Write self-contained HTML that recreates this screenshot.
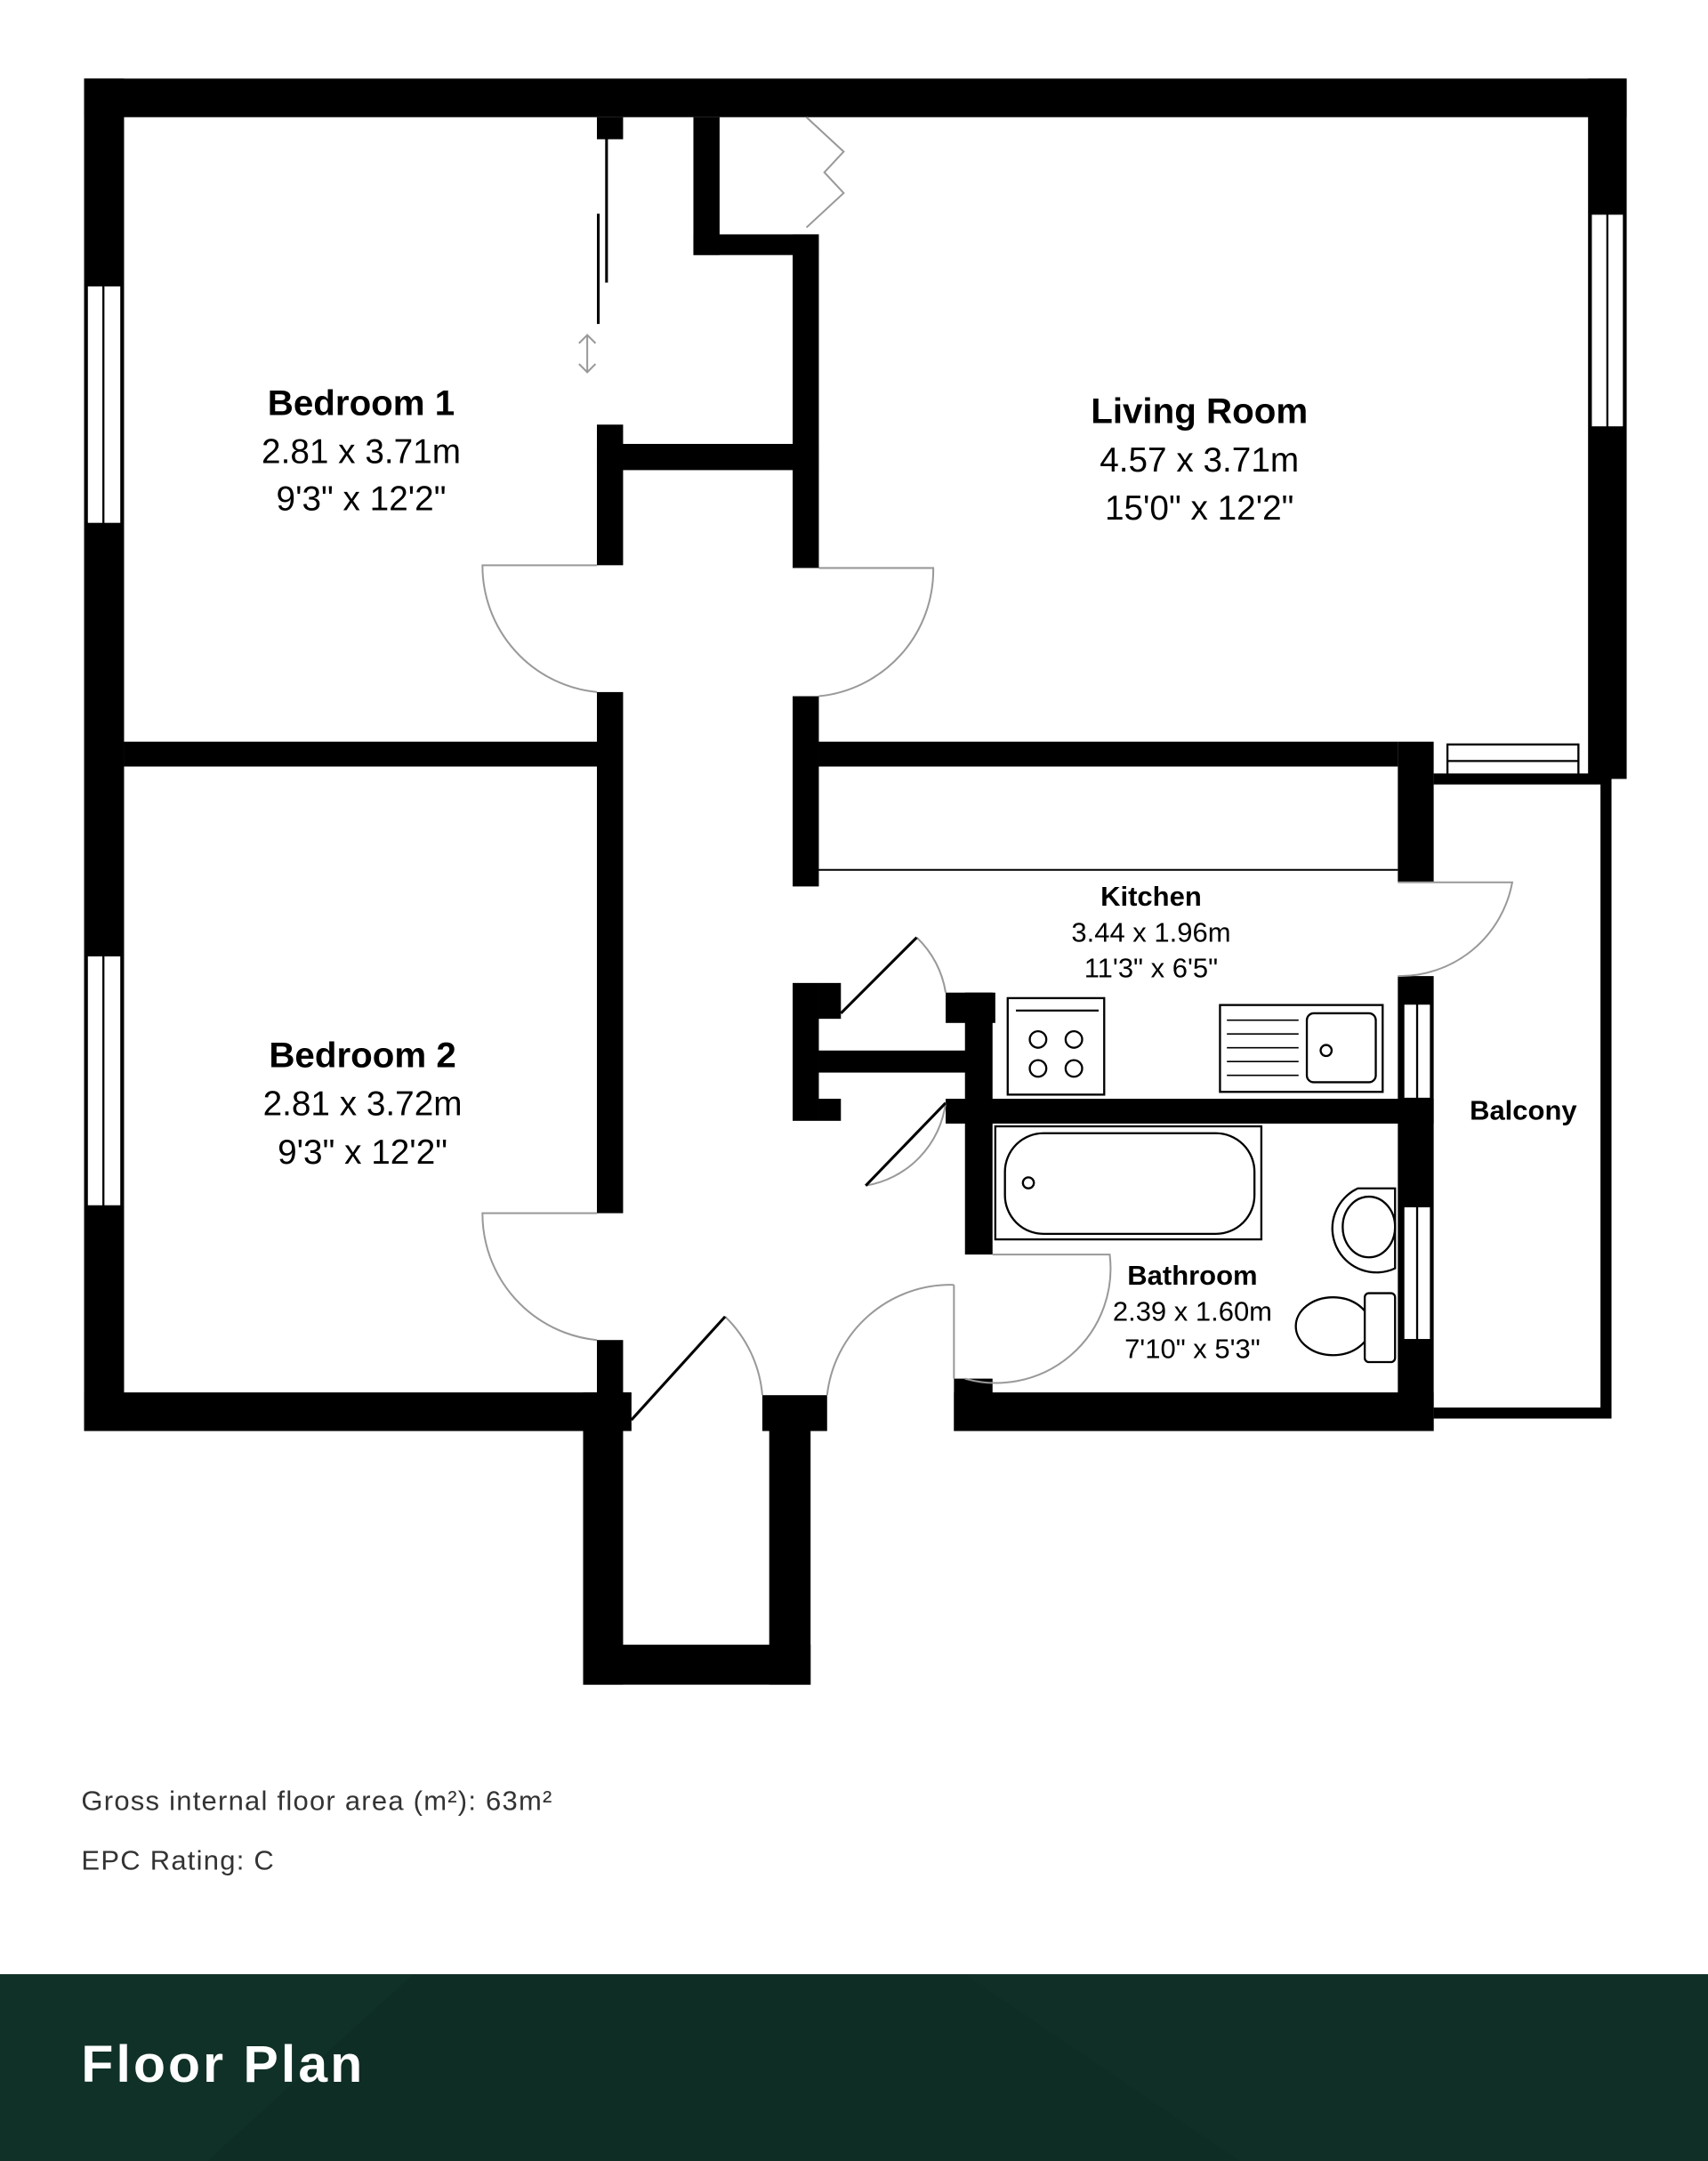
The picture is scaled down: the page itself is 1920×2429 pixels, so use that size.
<!DOCTYPE html>
<html><head><meta charset="utf-8"><style>
html,body{margin:0;padding:0;background:#fff}
svg{display:block}
</style></head><body>
<svg width="1920" height="2429" viewBox="0 0 1239 1567.5" preserveAspectRatio="none" xmlns="http://www.w3.org/2000/svg">
<rect width="1239" height="1568" fill="#fff"/>
<g fill="#000">
<rect x="61" y="57" width="1119" height="28"/>
<rect x="61" y="57" width="29" height="981"/>
<rect x="61" y="1010" width="397" height="28"/>
<rect x="1152" y="57" width="28" height="508"/>
<rect x="90" y="538" width="343" height="18"/>
<rect x="433" y="85" width="19" height="16"/>
<rect x="433" y="308" width="19" height="102"/>
<rect x="433" y="322" width="161" height="19"/>
<rect x="433" y="502" width="19" height="378"/>
<rect x="433" y="972" width="19" height="58"/>
<rect x="503" y="85" width="19" height="100"/>
<rect x="503" y="170" width="91" height="15"/>
<rect x="575" y="170" width="19" height="242"/>
<rect x="575" y="505" width="19" height="138"/>
<rect x="594" y="538" width="420" height="18"/>
<rect x="1014" y="538" width="26" height="102"/>
<rect x="575" y="713" width="19" height="100"/>
<rect x="594" y="713" width="16" height="26"/>
<rect x="594" y="797" width="16" height="16"/>
<rect x="594" y="762" width="120" height="16"/>
<rect x="686" y="720" width="36" height="22"/>
<rect x="686" y="797" width="354" height="18"/>
<rect x="700" y="720" width="20" height="190"/>
<rect x="1014" y="708" width="26" height="330"/>
<rect x="692" y="1010" width="348" height="28"/>
<rect x="692" y="1000" width="28" height="38"/>
<rect x="553" y="1012" width="47" height="26"/>
<rect x="423" y="1010" width="35" height="28"/>
<rect x="423" y="1030" width="29" height="192"/>
<rect x="558" y="1030" width="30" height="192"/>
<rect x="423" y="1193" width="165" height="29"/>
</g>
<g fill="#fff" stroke="#000" stroke-width="1.5">
<rect x="63" y="207" width="25" height="173"/><line x1="75" y1="207" x2="75" y2="380"/>
<rect x="63" y="693" width="25" height="182"/><line x1="75" y1="693" x2="75" y2="875"/>
<rect x="1154" y="155" width="24" height="155"/><line x1="1166" y1="155" x2="1166" y2="310"/>
<rect x="1050" y="540" width="95" height="24"/><line x1="1050" y1="552" x2="1145" y2="552"/>
<rect x="1018" y="728" width="20" height="69"/><line x1="1028" y1="728" x2="1028" y2="797"/>
<rect x="1018" y="875" width="20" height="97"/><line x1="1028" y1="875" x2="1028" y2="972"/>
</g>
<path d="M1040 565 H1165 V1025 H1040" fill="none" stroke="#000" stroke-width="8"/>
<g fill="none" stroke="#999" stroke-width="1.3">
<path d="M433 410 H350 A92 92 0 0 0 433 502"/>
<path d="M594 412 H677 A92 92 0 0 1 594 505"/>
<path d="M1014 640 H1097 A83 83 0 0 1 1014 708"/>
<path d="M433 880 H350 A92 92 0 0 0 433 972"/>
<path d="M692 1000 V932 M700 1000 A83 83 0 0 0 805 910 H720"/>
<path d="M600 1012 A90 90 0 0 1 692 932"/>
<path d="M526 955 A90 90 0 0 1 553 1012"/>
<path d="M665 680 A70 70 0 0 1 686 720"/>
<path d="M628 860 A70 70 0 0 0 686 800"/>
<path d="M585 85 L612 110 L598 125 L612 140 L585 165"/>
</g>
<g stroke="#000" stroke-width="2" fill="none">
<line x1="458" y1="1030" x2="526" y2="955"/>
<line x1="610" y1="735" x2="665" y2="680"/>
<line x1="628" y1="860" x2="686" y2="800"/>
<line x1="440" y1="100" x2="440" y2="205"/>
<line x1="434" y1="155" x2="434" y2="235"/>
</g>
<path d="M426 243 V270 M420 249 L426 243 L432 249 M420 264 L426 270 L432 264" stroke="#999" stroke-width="1.3" fill="none"/>
<line x1="594" y1="631" x2="1014" y2="631" stroke="#000" stroke-width="1.3"/>
<g fill="#fff" stroke="#000" stroke-width="1.5">
<rect x="731" y="724" width="70" height="70"/>
<circle cx="753" cy="754" r="6"/><circle cx="779" cy="754" r="6"/>
<circle cx="753" cy="775" r="6"/><circle cx="779" cy="775" r="6"/>
<rect x="885" y="729" width="118" height="63"/>
<rect x="948" y="735" width="50" height="50" rx="5"/>
<circle cx="962" cy="762" r="4"/>
<rect x="722" y="817" width="193" height="82"/>
<rect x="729" y="822" width="181" height="73" rx="28"/>
<circle cx="746" cy="858" r="4"/>
<path d="M1012 862 H985 A28 28 0 0 0 1012 920 Z"/>
<ellipse cx="993" cy="890" rx="19" ry="22"/>
<ellipse cx="967" cy="962" rx="27" ry="21"/>
<rect x="990" y="938" width="22" height="50" rx="3"/>
</g>
<line x1="737" y1="733" x2="797" y2="733" stroke="#000" stroke-width="1.5"/>
<g stroke="#000" stroke-width="1">
<line x1="890" y1="740" x2="942" y2="740"/><line x1="890" y1="750" x2="942" y2="750"/><line x1="890" y1="760" x2="942" y2="760"/><line x1="890" y1="770" x2="942" y2="770"/><line x1="890" y1="780" x2="942" y2="780"/>
</g>
<g font-family="Liberation Sans, sans-serif" fill="#000" text-anchor="middle">
<text x="262" y="301" font-size="26" font-weight="bold">Bedroom 1</text>
<text x="262" y="336" font-size="25">2.81 x 3.71m</text>
<text x="262" y="370" font-size="25">9'3" x 12'2"</text>
<text x="870" y="307" font-size="26" font-weight="bold">Living Room</text>
<text x="870" y="342" font-size="25">4.57 x 3.71m</text>
<text x="870" y="377" font-size="25">15'0" x 12'2"</text>
<text x="263" y="774" font-size="26" font-weight="bold">Bedroom 2</text>
<text x="263" y="809" font-size="25">2.81 x 3.72m</text>
<text x="263" y="844" font-size="25">9'3" x 12'2"</text>
<text x="835" y="657" font-size="20" font-weight="bold">Kitchen</text>
<text x="835" y="683" font-size="20">3.44 x 1.96m</text>
<text x="835" y="709" font-size="20">11'3" x 6'5"</text>
<text x="1105" y="812" font-size="20" font-weight="bold">Balcony</text>
<text x="865" y="932" font-size="20" font-weight="bold">Bathroom</text>
<text x="865" y="958" font-size="20">2.39 x 1.60m</text>
<text x="865" y="985" font-size="20">7'10" x 5'3"</text>
</g>
<g font-family="Liberation Sans, sans-serif" fill="#333" font-size="20" letter-spacing="0.8">
<text x="59" y="1313">Gross internal floor area (m²): 63m²</text>
<text x="59" y="1356">EPC Rating: C</text>
</g>
<rect x="0" y="1432" width="1239" height="136" fill="#0e2d24"/>
<polygon points="0,1432 300,1432 150,1568 0,1568" fill="#12332a" opacity="0.6"/>
<polygon points="700,1432 1239,1432 1239,1568 900,1568" fill="#12332a" opacity="0.5"/>
<text x="59" y="1510" font-family="Liberation Sans, sans-serif" font-size="38" font-weight="bold" fill="#fff" letter-spacing="2">Floor Plan</text>
</svg>
</body></html>
